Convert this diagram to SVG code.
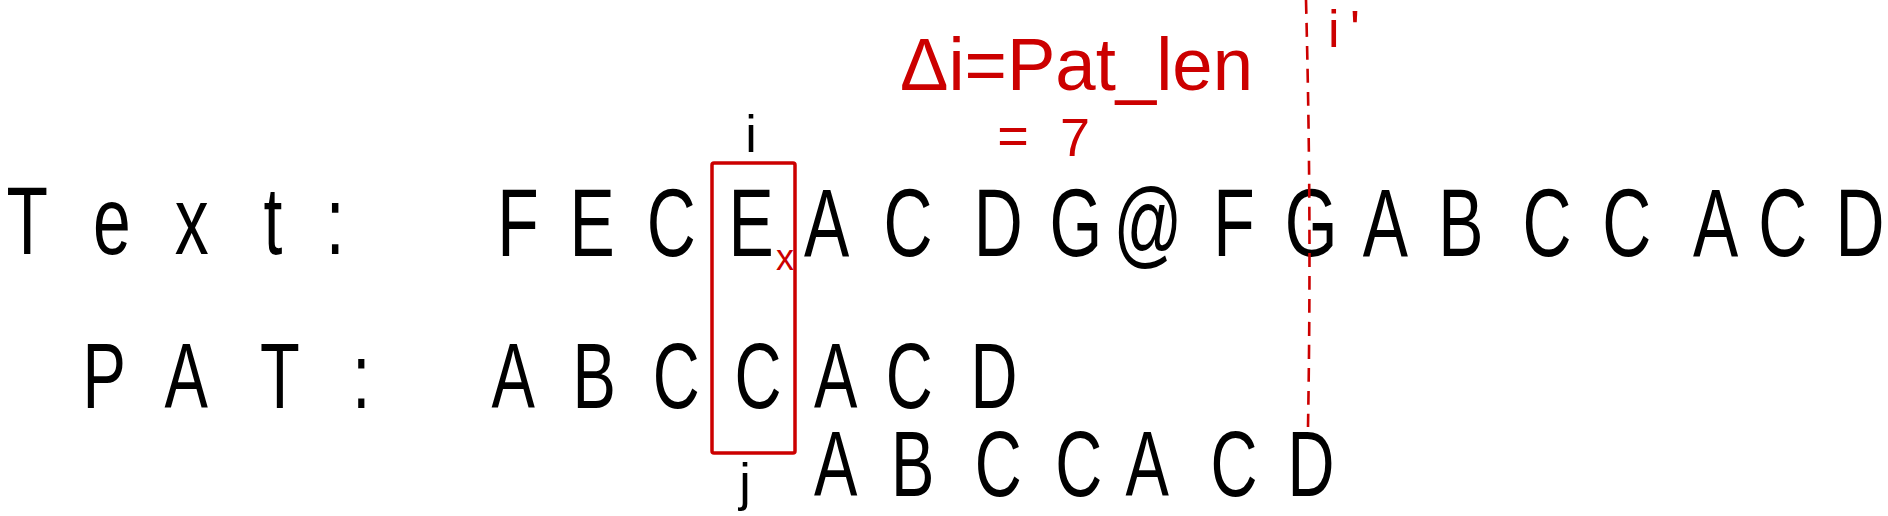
<svg xmlns="http://www.w3.org/2000/svg" width="1888" height="516" viewBox="0 0 1888 516">
<style>
.hw{font-family:"Liberation Sans",Arial,sans-serif;fill:#000;text-anchor:middle}
.big{font-size:97px}
.mid{font-size:93px}
.red{fill:#cc0000}
.lbl{font-size:52px}
.frame{fill:none;stroke:#cc0000;stroke-width:3.5}
.dash{fill:none;stroke:#cc0000;stroke-width:2.6;stroke-dasharray:14 9}
</style>
<rect width="1888" height="516" fill="#fff"/>
<g id="text-row" transform="scale(0.7 1)">
<text class="hw big" x="39 160 274 390 479" y="254">Text:</text>
<text class="hw big" x="740 846 959 1073 1181 1297 1426 1537 1640 1763 1873 1979 2087 2210 2324 2451 2547 2657" y="256">FECEACDG@FGABCCACD</text>
</g>
<g id="pattern-row" transform="scale(0.7 1)">
<text class="hw mid" x="149 266 400 516" y="408">PAT:</text>
<text class="hw mid" x="733 849 966 1083 1194 1299 1420" y="408">ABCCACD</text>
</g>
<g id="shifted-pattern" transform="scale(0.7 1)">
<text class="hw mid" x="1194 1304 1426 1541 1639 1763 1873" y="496">ABCCACD</text>
</g>
<g id="mismatch-box">
<rect class="frame" x="712" y="163" width="83" height="290" rx="2"/>
<text class="hw lbl" x="751" y="152">i</text>
<text class="hw lbl" x="745" y="500">j</text>
<text class="hw red" x="785" y="270" font-size="36">x</text>
</g>
<g id="annotation">
<text class="hw red" x="900" y="90" font-size="74" style="text-anchor:start" textLength="353" lengthAdjust="spacingAndGlyphs">Δi=Pat_len</text>
<text class="hw red" x="1013 1075" y="154 156" font-size="54">=7</text>
</g>
<g id="connectors">
<path class="dash" d="M1306,0 C1309,120 1311,250 1308,427"/>
</g>
<g id="shift-marker">
<text class="hw red lbl" x="1328" y="47" style="text-anchor:start" textLength="32" lengthAdjust="spacing">i'</text>
</g>
</svg>
